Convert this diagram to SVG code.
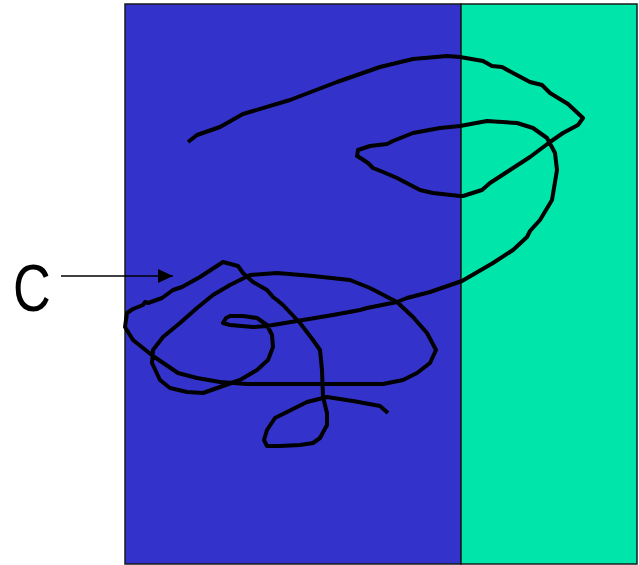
<svg xmlns="http://www.w3.org/2000/svg" width="639" height="565" viewBox="0 0 639 565">
<style>
.panel{stroke:#1a1a1a;stroke-width:1.5}
.scribble{fill:none;stroke:#000;stroke-width:4;stroke-linejoin:round;stroke-linecap:butt}
.lbl{font-family:"Liberation Sans","DejaVu Sans",sans-serif;font-size:67px;fill:#000}
</style>
<defs>
<marker id="ah" markerWidth="15" markerHeight="14" refX="15" refY="7" orient="auto" markerUnits="userSpaceOnUse" viewBox="0 0 15 14">
<path d="M0,0 L15,7 L0,14 z" fill="#000"/>
</marker>
</defs>
<g id="panels">
<rect class="panel" x="125" y="4" width="336" height="560" fill="#3333cc"/>
<rect class="panel" x="461" y="4" width="176" height="560" fill="#00e5aa"/>
</g>
<g id="scribble">
<path class="scribble" d="M188,142 L197,135 L220,127 L243,114 L290,100 L337,82 L380,67 L413,59 L447,56 L460,57 L483,61 L492,66 L502,67 L513,73 L530,82 L542,85 L550,93 L568,104 L583,118 L578,125 L563,133 L550,142 L530,157 L510,170 L490,183 L482,190 L463,196 L460,196 L433,193 L420,190 L397,178 L383,172 L373,168 L368,163 L362,159 L357,156 L358,150 L370,146 L387,144 L393,141 L413,133 L440,128 L460,126 L487,121 L517,123 L533,128 L547,138 L555,153 L557,170 L552,200 L540,220 L530,231 L527,237 L513,250 L493,263 L462,281 L430,292 L407,298 L397,302 L367,308 L360,310 L333,315 L303,320 L267,326 L253,327 L230,325 L223,323 L226,318 L230,316 L243,316 L257,318 L267,325 L272,335 L273,347 L268,360 L257,370 L240,380 L220,387 L203,393 L187,392 L170,388 L160,380 L152,363 L153,350 L163,337 L180,323 L197,308 L213,295 L230,285 L250,275 L277,273 L313,276 L350,280 L370,288 L397,302 L413,317 L427,333 L436,350 L430,363 L417,373 L403,380 L383,384 L353,384 L287,384 L247,384 L220,382 L197,378 L178,373 L153,356 L133,340 L125,327 L127,313 L133,309 L143,305 L145,302 L148,303 L162,298 L173,290 L182,287 L200,277 L223,262 L238,266 L243,273 L253,282 L267,290 L273,297 L277,300 L283,305 L300,323 L313,340 L320,350 L322,370 L323,397 L327,413 L327,425 L320,438 L313,443 L300,445 L280,446 L267,446 L264,440 L267,430 L275,418 L287,412 L307,402 L327,397 L353,401 L380,406 L388,413"/>
</g>
<g id="connectors">
<line x1="61" y1="276" x2="173" y2="276" stroke="#000" stroke-width="1.4" marker-end="url(#ah)"/>
</g>
<g id="label-C">
<text class="lbl" x="0" y="0" transform="translate(13,311) scale(0.78,1)">C</text>
</g>
</svg>
